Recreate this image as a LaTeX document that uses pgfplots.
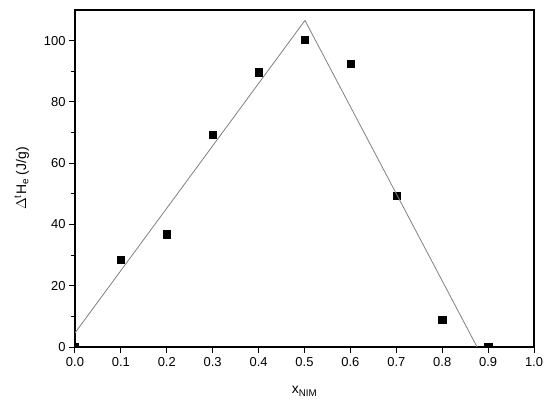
\documentclass[border=0pt]{standalone}
\usepackage{fontspec}
\setmainfont{Liberation Sans}
\usepackage{pgfplots}
\pgfplotsset{compat=1.18}

\begin{document}
\begin{tikzpicture}
\begin{axis}[
    scale only axis,
    width=459bp, height=337bp,
    xmin=0, xmax=1, ymin=0, ymax=110,
    xtick={0,0.1,...,1.0},
    ytick={0,20,...,100},
    minor ytick={10,30,...,90},
    xticklabel style={yshift=-1bp, /pgf/number format/fixed, /pgf/number format/fixed zerofill, /pgf/number format/precision=1},
    /pgf/number format/assume math mode=true,
    tick label style={font=\fontsize{13}{15}\selectfont},
    tick align=outside,
    xtick pos=bottom, ytick pos=left,
    major tick length=6bp, minor tick length=4bp,
    axis line style={line width=1.2bp},
    every tick/.style={black, line width=1bp},
    clip marker paths=true,
    xlabel={x\textsubscript{NIM}},
    ylabel={$\Delta$\textsuperscript{t}H\textsubscript{e} (J/g)},
    label style={font=\fontsize{14}{16}\selectfont},
    xlabel style={yshift=-13bp},
    ylabel style={yshift=8bp},
]
% measured points
\addplot[only marks, mark=square*, mark size=3.6bp, black] coordinates {
    (0.0,0) (0.1,28.5) (0.2,36.8) (0.3,69.4) (0.4,89.7)
    (0.5,100.2) (0.6,92.6) (0.7,49.3) (0.8,9.0) (0.9,0)
};
% fitted straight lines
\addplot[gray, line width=0.8bp] coordinates {(0,4.6) (0.501,106.6)};
\addplot[gray, line width=0.8bp] coordinates {(0.501,106.6) (0.876,0)};
\end{axis}
\path[use as bounding box] (current axis.south west) ++(-75bp,-64bp) rectangle ([shift={(16bp,10bp)}]current axis.north east);
\end{tikzpicture}
\end{document}
